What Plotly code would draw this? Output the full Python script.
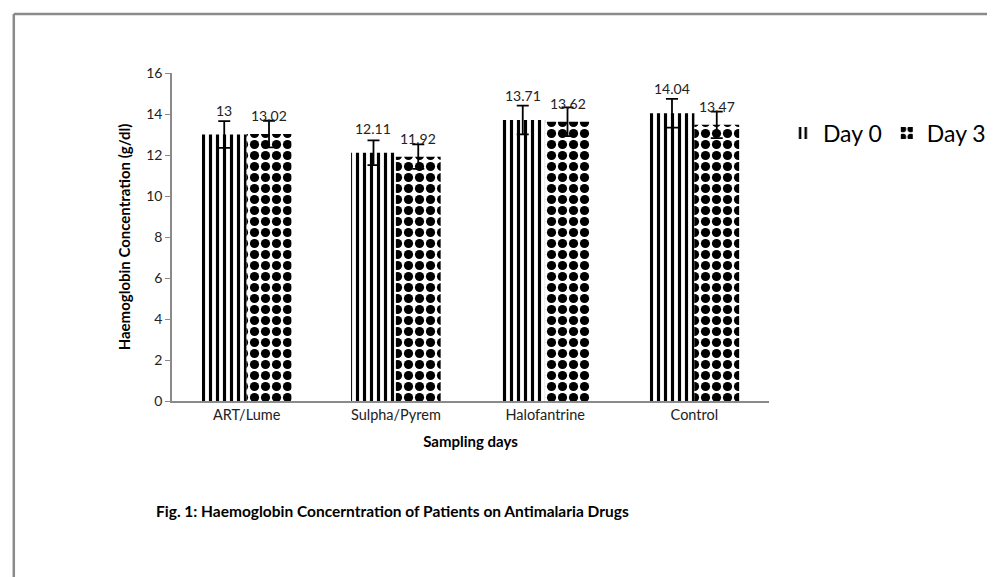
import plotly.graph_objects as go

categories = ["ART/Lume", "Sulpha/Pyrem", "Halofantrine", "Control"]
day0 = [13.00, 12.11, 13.71, 14.04]
day3 = [13.02, 11.92, 13.62, 13.47]
day0_err = [0.65, 0.60, 0.70, 0.70]
day3_err = [0.65, 0.60, 0.70, 0.65]
day0_labels = ["13", "12.11", "13.71", "14.04"]
day3_labels = ["13.02", "11.92", "13.62", "13.47"]
yticks = [0, 2, 4, 6, 8, 10, 12, 14, 16]

FONT = "Lato"
BARGAP = 0.40
fig = go.Figure()
fig.add_trace(go.Bar(
    name="Day 0", x=categories, y=day0,
    marker=dict(color="white", line=dict(width=0),
                pattern=dict(shape="|", fgcolor="#000000", bgcolor="white", fgopacity=1,
                             size=7, solidity=0.45)),
    error_y=dict(type="data", array=day0_err, color="black", thickness=1.8, width=6),
))
fig.add_trace(go.Bar(
    name="Day 3", x=categories, y=day3,
    marker=dict(color="white", line=dict(width=0),
                pattern=dict(shape=".", fgcolor="#000000", bgcolor="white", fgopacity=1,
                             size=11, solidity=0.55)),
    error_y=dict(type="data", array=day3_err, color="black", thickness=1.8, width=6),
))

bw = (1 - BARGAP) / 2
for i, c in enumerate(categories):
    fig.add_annotation(x=i - bw / 2, y=day0[i], text=day0_labels[i], showarrow=False,
                       yanchor="bottom", yshift=14, font=dict(family=FONT, size=14, color="#222"))
    fig.add_annotation(x=i + bw / 2, y=day3[i], text=day3_labels[i], showarrow=False,
                       yanchor="bottom", yshift=8, font=dict(family=FONT, size=14, color="#222"))

# caption
fig.add_annotation(xref="paper", yref="paper", x=(146 - 164) / 600, y=(393 - 503) / 328,
                   xanchor="left", yanchor="middle", showarrow=False,
                   text="<b>Fig. 1: Haemoglobin Concerntration of Patients on Antimalaria Drugs</b>",
                   font=dict(family=FONT, size=15.5, color="black"))

# frame
fig.add_shape(type="line", xref="paper", yref="paper", x0=(5 - 164) / 600, x1=(1000 - 164) / 600,
              y0=(393 - 6) / 328, y1=(393 - 6) / 328, line=dict(color="#8a8a8a", width=2.5))
fig.add_shape(type="line", xref="paper", yref="paper", x0=(5 - 164) / 600, x1=(5 - 164) / 600,
              y0=(393 - 6) / 328, y1=(393 - 590) / 328, line=dict(color="#8a8a8a", width=2.5))

fig.update_layout(
    width=995, height=577,
    margin=dict(l=164, r=231, t=65, b=184),
    paper_bgcolor="white", plot_bgcolor="white",
    barmode="group", bargap=BARGAP, bargroupgap=0,
    font=dict(family=FONT, color="#222"),
    showlegend=True,
    legend=dict(orientation="h", x=(778 - 164) / 600, y=(393 - 125) / 328, xanchor="left", yanchor="middle",
                font=dict(family=FONT, size=23, color="black"), itemwidth=30, itemsizing="constant"),
    xaxis=dict(showline=True, linecolor="#8a8a8a", linewidth=1.5, ticks="",
               tickfont=dict(family=FONT, size=14.5, color="#222"),
               title=dict(text="<b>Sampling days</b>", font=dict(family=FONT, size=15, color="black"), standoff=14)),
    yaxis=dict(range=[0, 16], tickvals=yticks, showline=True, linecolor="#8a8a8a", linewidth=1.5,
               ticks="outside", ticklen=5, tickcolor="#8a8a8a", showgrid=False, zeroline=False,
               tickfont=dict(family=FONT, size=14, color="#222"),
               title=dict(text="<b>Haemoglobin Concentration (g/dl)</b>", font=dict(family=FONT, size=15, color="black"), standoff=12)),
)

fig.write_html("out.html")
